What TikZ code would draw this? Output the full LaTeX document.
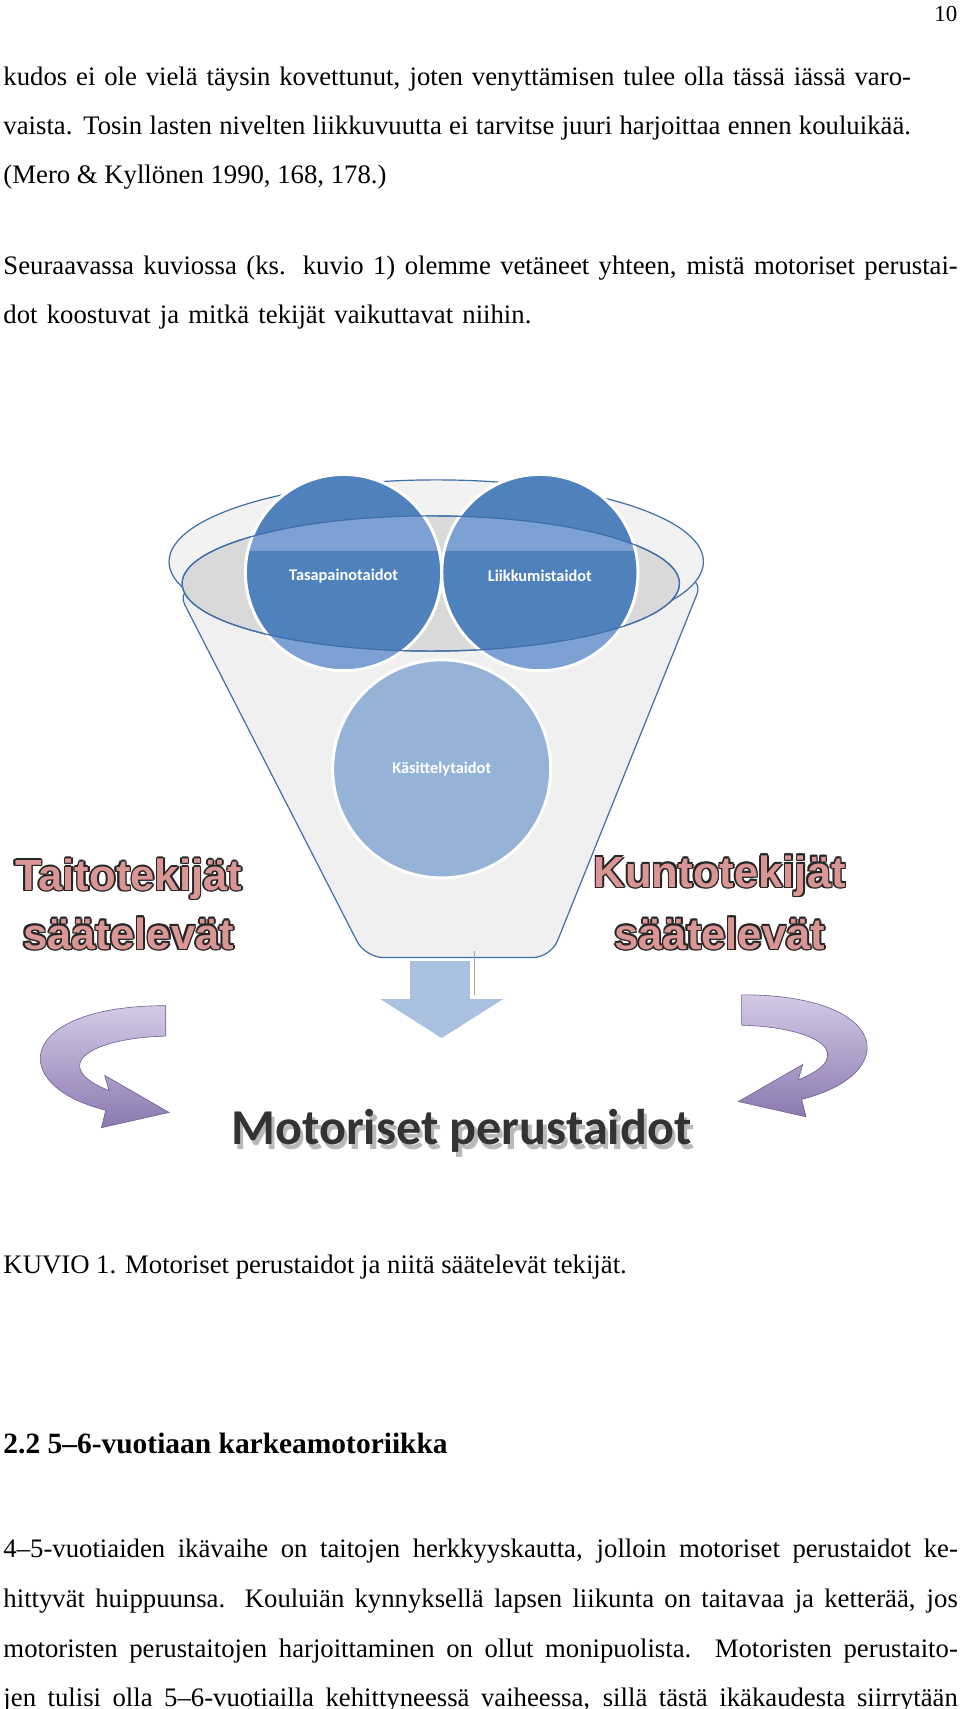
\documentclass[tikz,border=0pt]{standalone}
\usepackage{fontspec}
\setmainfont{Liberation Serif}
\newfontfamily\carfont{Carlito}
\newfontfamily\hv{Liberation Sans}
\definecolor{dblue}{HTML}{4F81BD}
\definecolor{lblue}{HTML}{7EA1D3}
\definecolor{llblue}{HTML}{95B3D7}
\definecolor{rimblue}{HTML}{3F6FA8}
\definecolor{pinkl}{HTML}{D99694}
\definecolor{purl}{HTML}{D4CAE6}
\definecolor{purd}{HTML}{8C78B0}
\begin{document}
\begin{tikzpicture}[x=1pt,y=-1pt,scale=1.0909,every node/.append style={transform shape},
  body/.style={anchor=base west,inner sep=0pt,font=\fontsize{24.5}{28}\selectfont},
  circ/.style={draw=white,line width=3pt},
  ctext/.style={text=white,font=\carfont\bfseries\fontsize{15}{18}\selectfont},
  big/.style={inner sep=0pt,font=\hv\bfseries\fontsize{40}{44}\selectfont},
  band/.style={draw=purd!80!black,line width=0.6pt,top color=purl,bottom color=purd}]
\useasboundingbox (0,0) rectangle (880,1567);
\fill[white] (0,0) rectangle (880,1567);
\node[anchor=base east,inner sep=0pt,font=\fontsize{21}{26}\selectfont] (pg) at (878,20) {10};
\node[body] (l1) at (3,78) {\makebox[832pt][s]{kudos ei ole vielä täysin kovettunut, joten venyttämisen tulee olla tässä iässä varo-}};
\node[body] (l2) at (3,123) {\makebox[832pt][s]{vaista. Tosin lasten nivelten liikkuvuutta ei tarvitse juuri harjoittaa ennen kouluikää.}};
\node[body] (l3) at (3,168) {(Mero \& Kyllönen 1990, 168, 178.)};
\node[body] (l4) at (3,252) {\makebox[875pt][s]{Seuraavassa kuviossa (ks. kuvio 1) olemme vetäneet yhteen, mistä motoriset perustai-}};
\node[body] (l5) at (3,297) {\makebox[484pt][s]{dot koostuvat ja mitkä tekijät vaikuttavat niihin.}};
% funnel
\fill[gray!12,draw=rimblue,line width=1.2pt,rounded corners=18pt] (162,540) -- (335,878) -- (505,878) -- (645,530) -- cycle;
\fill[gray!10,draw=rimblue,line width=1.2pt] (400,515) ellipse (245 and 75);
\fill[gray!30,draw=rimblue,line width=1.2pt] (395,535) ellipse (228 and 62);
\fill[llblue] (405,705) circle (100);
\draw[circ] (405,705) circle (100);
\fill[lblue] (315,525) circle (90);
\fill[lblue] (495,525) circle (90);
\begin{scope}
\clip (395,535) ellipse (228 and 62) (0,0) rectangle (880,505);
\fill[dblue] (315,525) circle (90);
\fill[dblue] (495,525) circle (90);
\end{scope}
\draw[circ] (315,525) circle (90);
\draw[circ] (495,525) circle (90);
\draw[rimblue,line width=1.2pt] (395,535) ellipse (228 and 62);
\node[ctext] (c1) at (315,528) {Tasapainotaidot};
\node[ctext] (c2) at (495,528) {Liikkumistaidot};
\node[ctext] (c3) at (405,705) {Käsittelytaidot};
% down arrow
\fill[llblue!80!white,draw=white,line width=2pt] (375,880) -- (432,880) -- (432,915) -- (465,915) -- (405,953) -- (345,915) -- (375,915) -- cycle;
\draw[gray!70,line width=1pt] (435,872) -- (435,912);
% labels with outline
\foreach \t/\x/\y/\n in {Taitotekijät/118/806/a, säätelevät/118/856/b, Kuntotekijät/660/803/c, säätelevät/660/856/d}{
  \foreach \dx/\dy in {1.5/0,-1.5/0,0/1.5,0/-1.5,1.1/1.1,-1.1/1.1,1.1/-1.1,-1.1/-1.1}
    \node[big,text=black!85] at (\x+\dx,\y+\dy) {\t};
  \node[big,text=pinkl] (lab\n) at (\x,\y) {\t};
}
% curved arrows
\path[band] (152,922) -- (152,950) .. controls (80,952) and (45,978) .. (100,1000) -- (96,986) -- (155,1020) -- (93,1034) -- (97,1018) .. controls (5,995) and (15,922) .. cycle;
\begin{scope}[shift={(832,-10)},xscale=-1]
\path[band] (152,922) -- (152,950) .. controls (80,952) and (45,978) .. (100,1000) -- (96,986) -- (155,1020) -- (93,1034) -- (97,1018) .. controls (5,995) and (15,922) .. cycle;
\end{scope}
\node[text=gray!55,font=\carfont\bfseries\fontsize{46}{50}\selectfont] (mps) at (426,1041) {Motoriset perustaidot};
\node[text=black!80,font=\carfont\bfseries\fontsize{46}{50}\selectfont] (mp) at (423,1037) {Motoriset perustaidot};
\node[body] (cap) at (3,1168) {KUVIO 1. Motoriset perustaidot ja niitä säätelevät tekijät.};
\node[body,font=\bfseries\fontsize{27}{32}\selectfont] (h) at (3,1333) {2.2 5–6-vuotiaan karkeamotoriikka};
\node[body] (l6) at (3,1428) {\makebox[875pt][s]{4–5-vuotiaiden ikävaihe on taitojen herkkyyskautta, jolloin motoriset perustaidot ke-}};
\node[body] (l7) at (3,1474) {\makebox[875pt][s]{hittyvät huippuunsa. Kouluiän kynnyksellä lapsen liikunta on taitavaa ja ketterää, jos}};
\node[body] (l8) at (3,1520) {\makebox[875pt][s]{motoristen perustaitojen harjoittaminen on ollut monipuolista. Motoristen perustaito-}};
\node[body] (l9) at (3,1565) {\makebox[875pt][s]{jen tulisi olla 5–6-vuotiailla kehittyneessä vaiheessa, sillä tästä ikäkaudesta siirrytään}};
\end{tikzpicture}
\end{document}
